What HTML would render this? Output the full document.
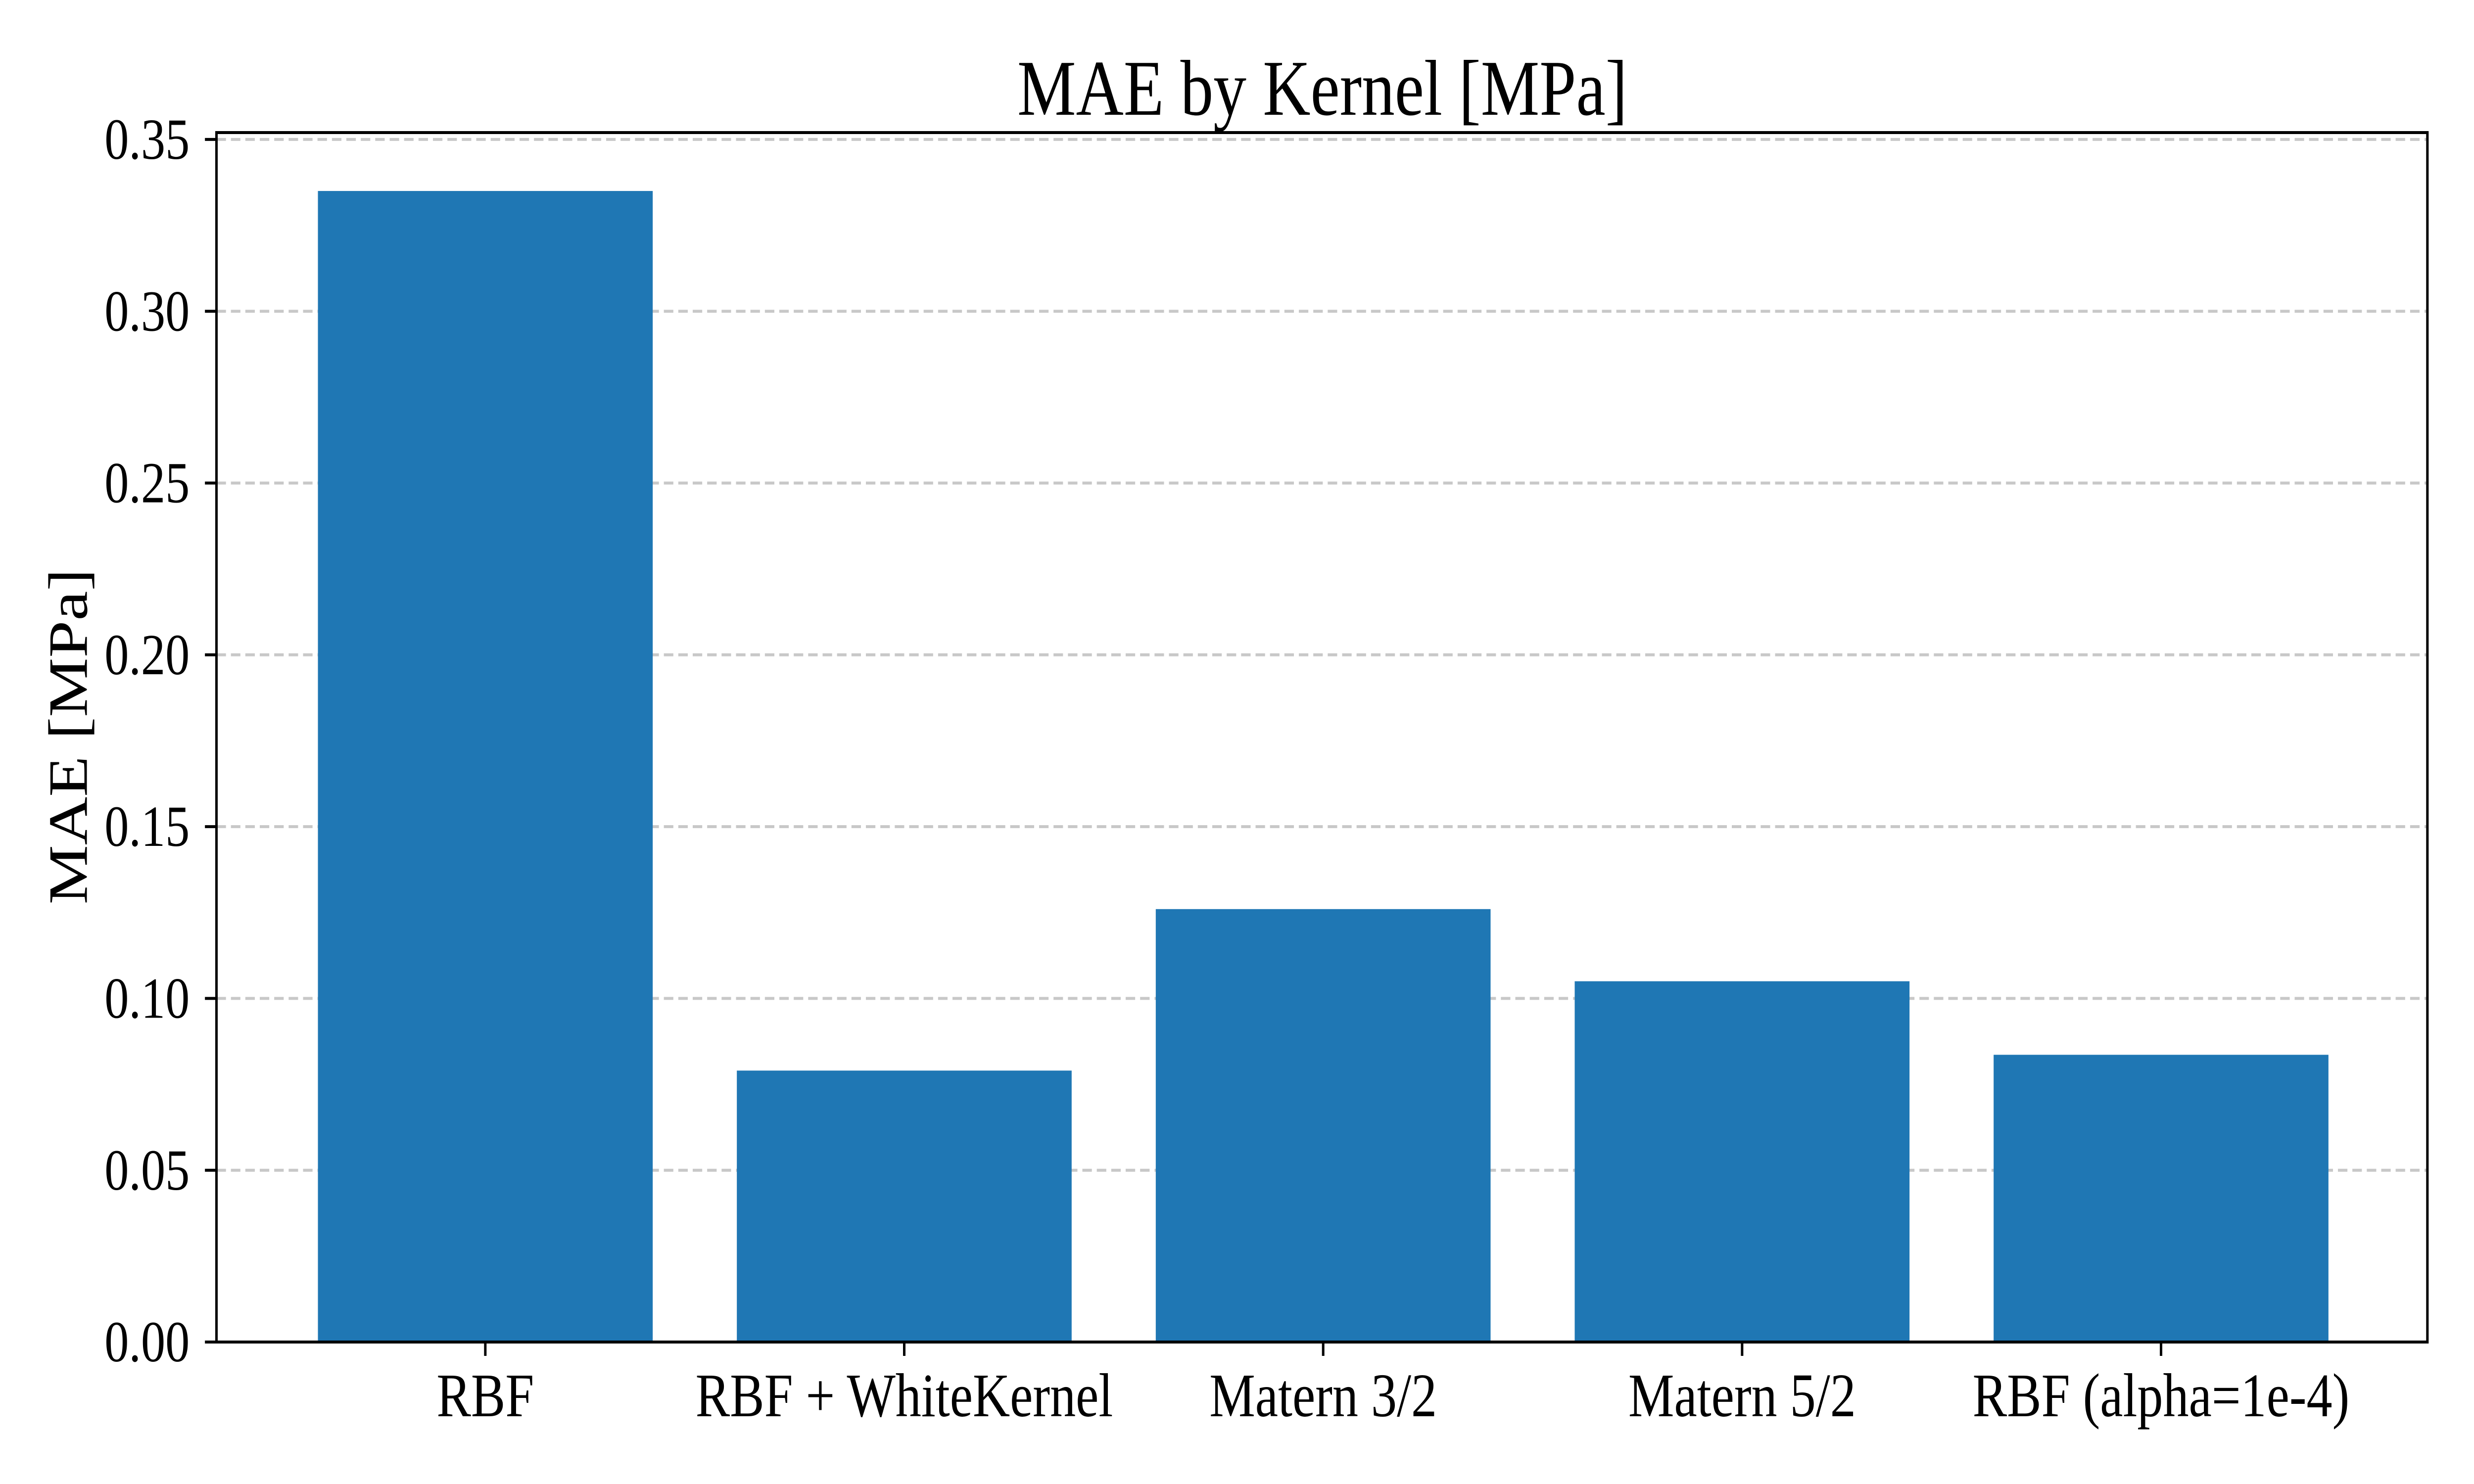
<!DOCTYPE html>
<html><head><meta charset="utf-8">
<style>html,body{margin:0;padding:0;background:#fff;overflow:hidden;width:100%;height:100%;}svg{display:block;width:100vw;height:100vh;}</style>
</head><body>
<svg id="chart" viewBox="0 0 6000 3000" preserveAspectRatio="none" xmlns="http://www.w3.org/2000/svg" font-family="'Liberation Serif', 'DejaVu Serif', serif">
<rect width="6000" height="3000" fill="#fff"/>
<text x="3207" y="232" text-anchor="middle" font-size="160" fill="#000">MAE by Kernel [MPa]</text>
<text transform="translate(165,1489) rotate(-90)" text-anchor="middle" dominant-baseline="central" font-size="135" fill="#000">MAE [MPa]</text>
<g id="grid"></g><g id="bars"></g><g id="yticks"></g><g id="xticks"></g>
<rect x="525" y="268" width="5362" height="2445" fill="none" stroke="#000" stroke-width="6"/>
</svg>
<script>
const categories = ["RBF", "RBF + WhiteKernel", "Matern 3/2", "Matern 5/2", "RBF (alpha=1e-4)"];
const maeValues = [0.335, 0.079, 0.126, 0.105, 0.0836];
const yTickValues = [0, 0.05, 0.10, 0.15, 0.20, 0.25, 0.30, 0.35];
const yTickLabels = ["0.00", "0.05", "0.10", "0.15", "0.20", "0.25", "0.30", "0.35"];

const NS = "http://www.w3.org/2000/svg";
const plotL = 525, plotR = 5887, plotT = 268, plotB = 2713;
const yMax = 0.352;
function yScale(v){ return plotB - v / yMax * (plotB - plotT); }
const step = 1016, firstCenter = 1177, barW = 812;
function xScale(i){ return firstCenter + i * step; }
function mk(tag, attrs, parent){ const e = document.createElementNS(NS, tag); for (const k in attrs) e.setAttribute(k, attrs[k]); parent.appendChild(e); return e; }

const grid = document.getElementById('grid'), bars = document.getElementById('bars');
const yt = document.getElementById('yticks'), xt = document.getElementById('xticks');

yTickValues.forEach((v, i) => {
  const y = yScale(v);
  const g = mk('line', {x1: plotL, x2: plotR, y1: y, y2: y, stroke: '#c8c8c8', 'stroke-width': 6, 'stroke-dasharray': '23 12'}, grid);
  
  
  const t = mk('line', {x1: plotL - 28, x2: plotL, y1: y, y2: y, stroke: '#000', 'stroke-width': 6}, yt);
  
  
  const l = mk('text', {x: 460, y: y, 'text-anchor': 'end', 'dominant-baseline': 'central', 'font-size': 118, fill: '#000'}, yt);
  l.textContent = yTickLabels[i];
  
  
});

categories.forEach((c, i) => {
  const cx = xScale(i);
  const top = yScale(maeValues[i]);
  const b = mk('rect', {x: cx - barW / 2, y: top, width: barW, height: plotB - top, fill: '#1f77b4'}, bars);
  
  
  const t = mk('line', {x1: cx, x2: cx, y1: plotB, y2: plotB + 28, stroke: '#000', 'stroke-width': 6}, xt);
  
  
  const l = mk('text', {x: cx, y: 2863, 'text-anchor': 'middle', 'font-size': 125, fill: '#000'}, xt);
  l.textContent = c;
  
  
});
</script>
</body></html>
